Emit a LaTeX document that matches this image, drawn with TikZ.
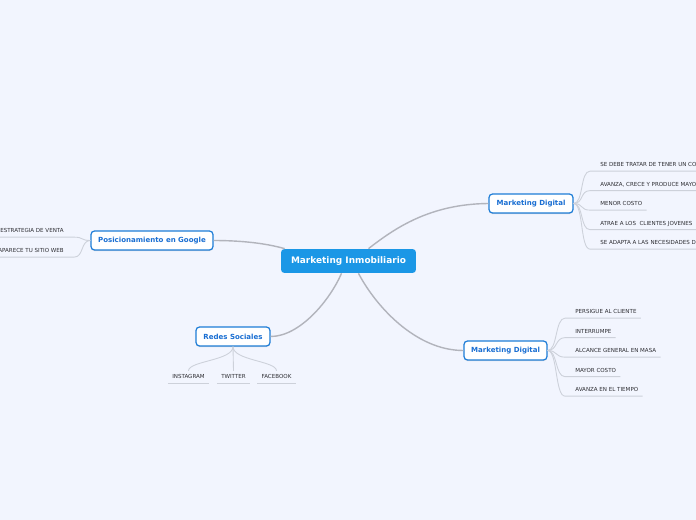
\documentclass[tikz,border=0pt]{standalone}
\usepackage{fontspec}
\setmainfont{DejaVu Sans}
\usepackage{tikz}
\usetikzlibrary{positioning, calc, shadows}
\definecolor{mybg}{RGB}{242,245,254}
\definecolor{myblue}{RGB}{27,151,230}
\definecolor{myedge}{RGB}{30,125,215}
\definecolor{mytext}{RGB}{25,110,210}
\definecolor{mybranch}{RGB}{178,180,188}
\definecolor{mytwig}{RGB}{205,209,218}
\definecolor{myleaf}{RGB}{45,45,50}
\tikzset{
  rootnode/.style={rectangle, fill=myblue, text=white,
    minimum width=2.7cm, minimum height=0.48cm, inner sep=0pt,
    font=\fontsize{5.1}{6}\selectfont\bfseries, rounded corners=2pt},
  topic/.style={rectangle, draw=myedge, fill=white, text=mytext,
    minimum height=0.38cm, inner sep=0pt, line width=0.7pt,
    font=\fontsize{4}{5}\selectfont\bfseries, rounded corners=2pt,
    drop shadow={shadow xshift=0pt, shadow yshift=-0.6pt, opacity=0.25}},
  leaf/.style={inner xsep=0.08cm, inner ysep=1.8pt, text height=2.4pt,
    text depth=0.6pt, text=myleaf, font=\fontsize{3.15}{3.8}\selectfont},
  branch/.style={draw=mybranch, line width=0.8pt},
  twig/.style={draw=mytwig, line width=0.5pt}
}
\begin{document}
\begin{tikzpicture}[x=0.02cm, y=-0.02cm]
  \useasboundingbox (0,0) rectangle (696,520);
  \clip (0,0) rectangle (696,520);
  \fill[mybg] (0,0) rectangle (696,520);

  \node[rootnode] (root) at (348.5,261) {Marketing Inmobiliario};
  \node[topic, minimum width=1.68cm] (mda) at (531,203.5) {Marketing Digital};
  \node[topic, minimum width=1.66cm] (mdb) at (505.5,350.5) {Marketing Digital};
  \node[topic, minimum width=2.44cm] (pg) at (152,240.5) {Posicionamiento en Google};
  \node[topic, minimum width=1.48cm] (rs) at (233,336.5) {Redes Sociales};

  \draw[branch] ($(root.north)+(20,0)$) .. controls (395,228) and (430,204) .. (mda.west);
  \draw[branch] ($(root.south)+(10,0)$) .. controls (375,305) and (415,350.5) .. (mdb.west);
  \draw[branch] ($(root.north west)+(4,0)$) .. controls (265,243) and (240,240.5) .. (pg.east);
  \draw[branch] ($(root.south)+(-7,0)$) .. controls (330,300) and (300,336.5) .. (rs.east);

  \node[leaf, anchor=west] (a1) at (596,165) {SE DEBE TRATAR DE TENER UN CO};
  \node[leaf, anchor=west] (a2) at (596,184.5) {AVANZA, CRECE Y PRODUCE MAYO};
  \node[leaf, anchor=west] (a3) at (596,204) {MENOR COSTO};
  \node[leaf, anchor=west] (a4) at (596,223.5) {ATRAE A LOS~ CLIENTES JOVENES};
  \node[leaf, anchor=west] (a5) at (596,243) {SE ADAPTA A LAS NECESIDADES D};
  \draw[twig] (mda.east) .. controls +(10,0) and +(-10,0) .. ($(a1.south west)+(-6,0)$) -- (a1.south east);
  \draw[twig] (mda.east) .. controls +(10,0) and +(-10,0) .. ($(a2.south west)+(-6,0)$) -- (a2.south east);
  \draw[twig] (mda.east) .. controls +(10,0) and +(-10,0) .. ($(a3.south west)+(-6,0)$) -- (a3.south east);
  \draw[twig] (mda.east) .. controls +(10,0) and +(-10,0) .. ($(a4.south west)+(-6,0)$) -- (a4.south east);
  \draw[twig] (mda.east) .. controls +(10,0) and +(-10,0) .. ($(a5.south west)+(-6,0)$) -- (a5.south east);

  \node[leaf, anchor=west] (b1) at (571,312) {PERSIGUE AL CLIENTE};
  \node[leaf, anchor=west] (b2) at (571,331.5) {INTERRUMPE};
  \node[leaf, anchor=west] (b3) at (571,351) {ALCANCE GENERAL EN MASA};
  \node[leaf, anchor=west] (b4) at (571,370.5) {MAYOR COSTO};
  \node[leaf, anchor=west] (b5) at (571,390) {AVANZA EN EL TIEMPO};
  \draw[twig] (mdb.east) .. controls +(10,0) and +(-10,0) .. ($(b1.south west)+(-6,0)$) -- (b1.south east);
  \draw[twig] (mdb.east) .. controls +(10,0) and +(-10,0) .. ($(b2.south west)+(-6,0)$) -- (b2.south east);
  \draw[twig] (mdb.east) .. controls +(10,0) and +(-10,0) .. ($(b3.south west)+(-6,0)$) -- (b3.south east);
  \draw[twig] (mdb.east) .. controls +(10,0) and +(-10,0) .. ($(b4.south west)+(-6,0)$) -- (b4.south east);
  \draw[twig] (mdb.east) .. controls +(10,0) and +(-10,0) .. ($(b5.south west)+(-6,0)$) -- (b5.south east);

  \node[leaf, anchor=east] (c1) at (68,231) {ESTRATEGIA DE VENTA};
  \node[leaf, anchor=east] (c2) at (68,251) {APARECE TU SITIO WEB};
  \draw[twig] (pg.west) .. controls +(-10,0) and +(10,0) .. ($(c1.south east)+(6,0)$) -- (c1.south west);
  \draw[twig] (pg.west) .. controls +(-10,0) and +(10,0) .. ($(c2.south east)+(6,0)$) -- (c2.south west);

  \node[leaf] (d1) at (188.5,377) {INSTAGRAM};
  \node[leaf] (d2) at (233.5,377) {TWITTER};
  \node[leaf] (d3) at (276.5,377) {FACEBOOK};
  \draw[twig] (d1.south west) -- (d1.south east);
  \draw[twig] (d2.south west) -- (d2.south east);
  \draw[twig] (d3.south west) -- (d3.south east);
  \draw[twig] (rs.south) .. controls +(0,14) and +(0,-10) .. (d1.north);
  \draw[twig] (rs.south) -- (d2.north);
  \draw[twig] (rs.south) .. controls +(0,14) and +(0,-10) .. (d3.north);
\end{tikzpicture}
\end{document}
